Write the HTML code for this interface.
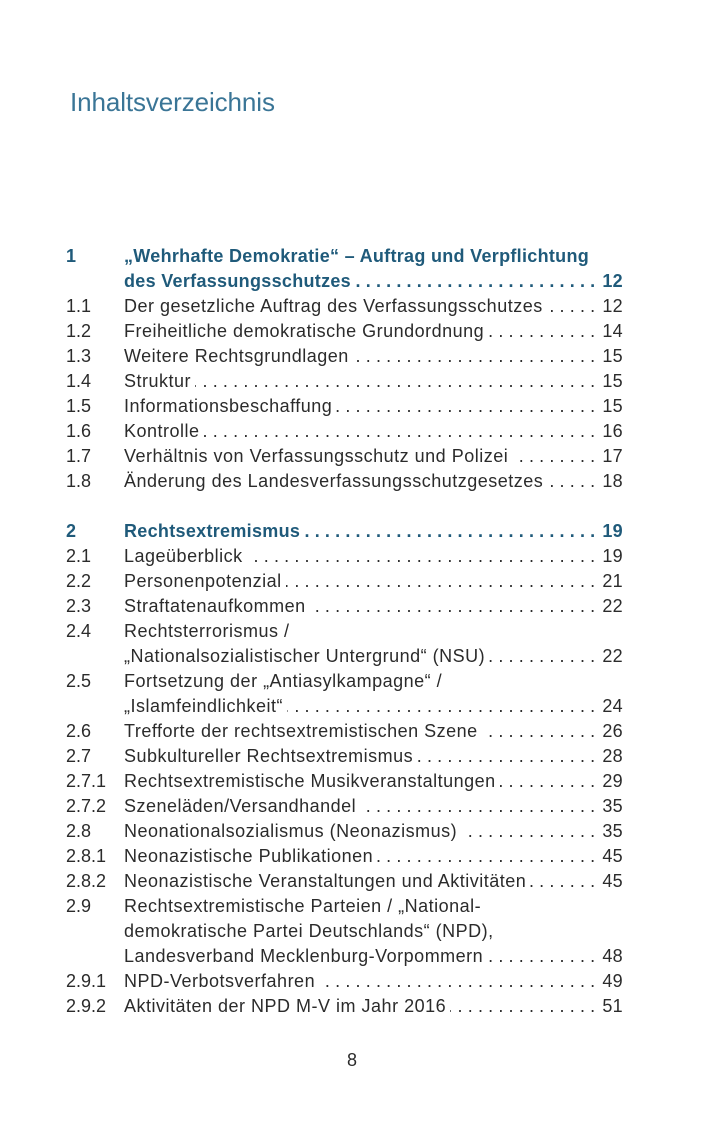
<!DOCTYPE html>
<html><head><meta charset="utf-8"><style>
body{margin:0;width:709px;height:1123px;background:#fff;position:relative;font-family:"Liberation Sans",sans-serif;color:#2b2b2b;overflow:hidden}
h1{position:absolute;left:70px;top:87px;margin:0;font-weight:normal;font-size:26px;color:#3a7596;letter-spacing:-0.1px}
.toc{position:absolute;left:66px;top:244px;width:557px}
.r{display:flex;height:25px;line-height:25px;font-size:18px;white-space:nowrap;letter-spacing:0.5px}
.n{width:58px;flex:none;letter-spacing:0}
.t{flex:none;padding-right:4px}
.l{flex:1;overflow:hidden;text-align:right;direction:rtl;letter-spacing:5.2px;padding-right:2px}
.p{flex:none;letter-spacing:0.3px}
.b{color:#1f5a7a;font-weight:bold;letter-spacing:0.3px}
.pg{position:absolute;left:347px;top:1050px;font-size:18px}
</style></head><body>
<h1>Inhaltsverzeichnis</h1>
<div class="toc">
<div class="r b"><span class="n">1</span><span class="t">„Wehrhafte Demokratie“ – Auftrag und Verpflichtung</span></div>
<div class="r b"><span class="n"></span><span class="t">des Verfassungsschutzes</span><span class="l">....................................</span><span class="p">12</span></div>
<div class="r"><span class="n">1.1</span><span class="t">Der gesetzliche Auftrag des Verfassungsschutzes</span><span class="l">....................................</span><span class="p">12</span></div>
<div class="r"><span class="n">1.2</span><span class="t">Freiheitliche demokratische Grundordnung</span><span class="l">....................................</span><span class="p">14</span></div>
<div class="r"><span class="n">1.3</span><span class="t">Weitere Rechtsgrundlagen</span><span class="l">....................................</span><span class="p">15</span></div>
<div class="r"><span class="n">1.4</span><span class="t">Struktur</span><span class="l">.....................................................</span><span class="p">15</span></div>
<div class="r"><span class="n">1.5</span><span class="t">Informationsbeschaffung</span><span class="l">....................................</span><span class="p">15</span></div>
<div class="r"><span class="n">1.6</span><span class="t">Kontrolle</span><span class="l">.....................................................</span><span class="p">16</span></div>
<div class="r"><span class="n">1.7</span><span class="t">Verhältnis von Verfassungsschutz und Polizei</span><span class="l">....................................</span><span class="p">17</span></div>
<div class="r"><span class="n">1.8</span><span class="t">Änderung des Landesverfassungsschutzgesetzes</span><span class="l">....................................</span><span class="p">18</span></div>
<div class="r"></div>
<div class="r b"><span class="n">2</span><span class="t">Rechtsextremismus</span><span class="l">....................................</span><span class="p">19</span></div>
<div class="r"><span class="n">2.1</span><span class="t">Lageüberblick</span><span class="l">.....................................................</span><span class="p">19</span></div>
<div class="r"><span class="n">2.2</span><span class="t">Personenpotenzial</span><span class="l">....................................</span><span class="p">21</span></div>
<div class="r"><span class="n">2.3</span><span class="t">Straftatenaufkommen</span><span class="l">....................................</span><span class="p">22</span></div>
<div class="r"><span class="n">2.4</span><span class="t">Rechtsterrorismus /</span></div>
<div class="r"><span class="n"></span><span class="t">„Nationalsozialistischer Untergrund“ (NSU)</span><span class="l">....................................</span><span class="p">22</span></div>
<div class="r"><span class="n">2.5</span><span class="t">Fortsetzung der „Antiasylkampagne“ /</span></div>
<div class="r"><span class="n"></span><span class="t">„Islamfeindlichkeit“</span><span class="l">....................................</span><span class="p">24</span></div>
<div class="r"><span class="n">2.6</span><span class="t">Trefforte der rechtsextremistischen Szene</span><span class="l">....................................</span><span class="p">26</span></div>
<div class="r"><span class="n">2.7</span><span class="t">Subkultureller Rechtsextremismus</span><span class="l">....................................</span><span class="p">28</span></div>
<div class="r"><span class="n">2.7.1</span><span class="t">Rechtsextremistische Musikveranstaltungen</span><span class="l">....................................</span><span class="p">29</span></div>
<div class="r"><span class="n">2.7.2</span><span class="t">Szeneläden/Versandhandel</span><span class="l">....................................</span><span class="p">35</span></div>
<div class="r"><span class="n">2.8</span><span class="t">Neonationalsozialismus (Neonazismus)</span><span class="l">....................................</span><span class="p">35</span></div>
<div class="r"><span class="n">2.8.1</span><span class="t">Neonazistische Publikationen</span><span class="l">....................................</span><span class="p">45</span></div>
<div class="r"><span class="n">2.8.2</span><span class="t">Neonazistische Veranstaltungen und Aktivitäten</span><span class="l">....................................</span><span class="p">45</span></div>
<div class="r"><span class="n">2.9</span><span class="t">Rechtsextremistische Parteien / „National-</span></div>
<div class="r"><span class="n"></span><span class="t">demokratische Partei Deutschlands“ (NPD),</span></div>
<div class="r"><span class="n"></span><span class="t">Landesverband Mecklenburg-Vorpommern</span><span class="l">....................................</span><span class="p">48</span></div>
<div class="r"><span class="n">2.9.1</span><span class="t">NPD-Verbotsverfahren</span><span class="l">....................................</span><span class="p">49</span></div>
<div class="r"><span class="n">2.9.2</span><span class="t">Aktivitäten der NPD M-V im Jahr 2016</span><span class="l">....................................</span><span class="p">51</span></div>
</div>
<div class="pg">8</div>
</body></html>
